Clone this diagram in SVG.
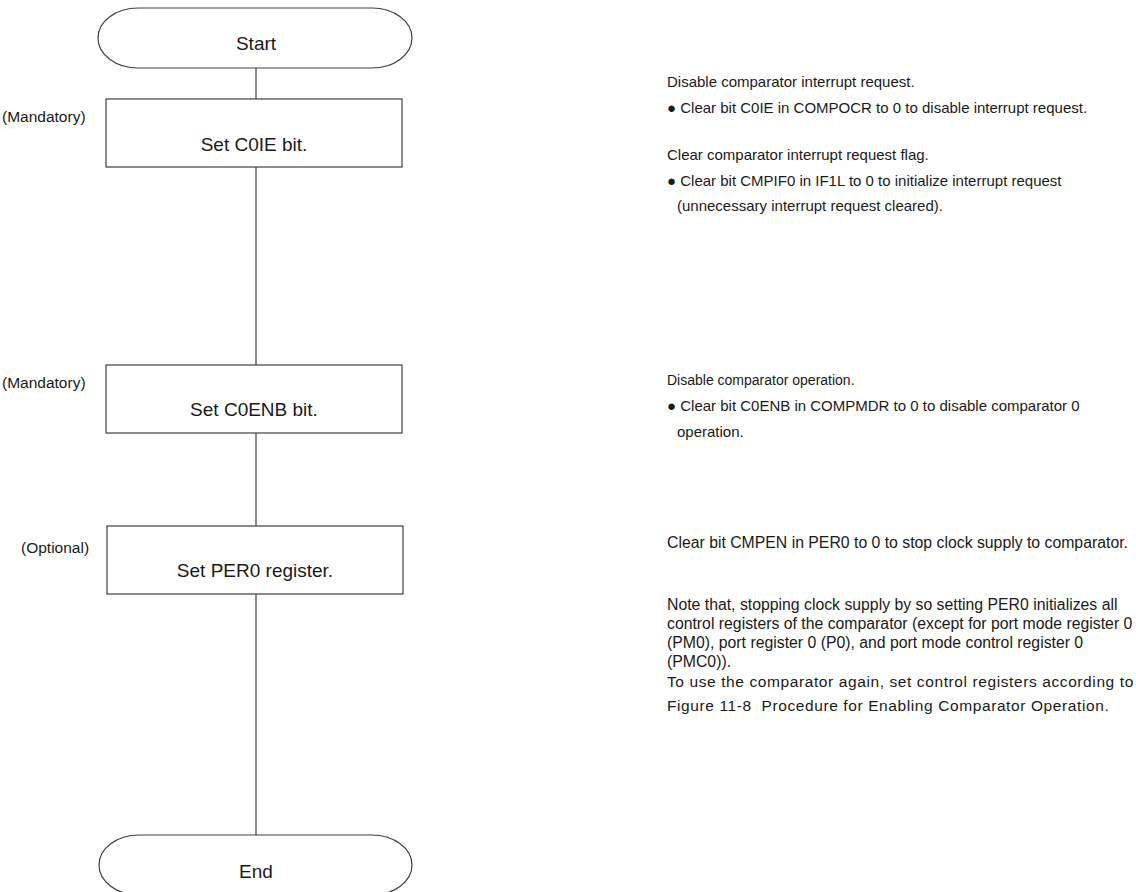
<svg xmlns="http://www.w3.org/2000/svg" width="1136" height="892" viewBox="0 0 1136 892">
<style>
.shape{fill:#ffffff;stroke:#404040;stroke-width:1.2}
.conn{stroke:#404040;stroke-width:1.2;fill:none}
.bt{font-family:"Liberation Sans",Arial,sans-serif;font-size:19px;fill:#1a1a1a;text-anchor:middle}
.lb{font-family:"Liberation Sans",Arial,sans-serif;font-size:15.5px;fill:#1a1a1a}
.r1{font-family:"Liberation Sans",Arial,sans-serif;font-size:15px;fill:#1a1a1a}
.r2{font-family:"Liberation Sans",Arial,sans-serif;font-size:15.8px;fill:#1a1a1a}
.rs{font-family:"Liberation Sans",Arial,sans-serif;font-size:14px;fill:#1a1a1a}
.r3{font-family:"Liberation Sans",Arial,sans-serif;font-size:15.5px;letter-spacing:0.6px;fill:#1a1a1a}
</style>
<rect width="1136" height="892" fill="#ffffff"/>
<g id="connectors">
<line class="conn" x1="256" y1="68" x2="256" y2="835"/>
</g>
<g id="start">
<path class="shape" d="M138 8 H372 A40 30 0 0 1 372 68 H138 A40 30 0 0 1 138 8 Z"/>
<text class="bt" x="256" y="50">Start</text>
</g>
<g id="step1">
<rect class="shape" x="106" y="99" width="296" height="68"/>
<text class="bt" x="254" y="151">Set C0IE bit.</text>
<text class="lb" x="2" y="122">(Mandatory)</text>
</g>
<g id="step2">
<rect class="shape" x="106" y="365" width="296" height="68"/>
<text class="bt" x="254" y="416">Set C0ENB bit.</text>
<text class="lb" x="2" y="388">(Mandatory)</text>
</g>
<g id="step3">
<rect class="shape" x="107" y="526" width="296" height="68"/>
<text class="bt" x="255" y="577">Set PER0 register.</text>
<text class="lb" x="21" y="553">(Optional)</text>
</g>
<g id="end">
<path class="shape" d="M139 835 H372 A40 30 0 0 1 372 895 H139 A40 30 0 0 1 139 835 Z"/>
<text class="bt" x="256" y="878">End</text>
</g>
<g id="notes">
<text class="r1" x="667" y="87">Disable comparator interrupt request.</text>
<text class="r1" x="667" y="113">● Clear bit C0IE in COMPOCR to 0 to disable interrupt request.</text>
<text class="r1" x="667" y="160">Clear comparator interrupt request flag.</text>
<text class="r1" x="667" y="186">● Clear bit CMPIF0 in IF1L to 0 to initialize interrupt request</text>
<text class="r1" x="677" y="211">(unnecessary interrupt request cleared).</text>
<text class="rs" x="667" y="385">Disable comparator operation.</text>
<text class="r1" x="667" y="411">● Clear bit C0ENB in COMPMDR to 0 to disable comparator 0</text>
<text class="r1" x="677" y="437">operation.</text>
<text class="r2" x="667" y="548">Clear bit CMPEN in PER0 to 0 to stop clock supply to comparator.</text>
<text class="r2" x="667" y="610">Note that, stopping clock supply by so setting PER0 initializes all</text>
<text class="r2" x="667" y="629">control registers of the comparator (except for port mode register 0</text>
<text class="r2" x="667" y="648">(PM0), port register 0 (P0), and port mode control register 0</text>
<text class="r2" x="667" y="667">(PMC0)).</text>
<text class="r3" x="667" y="687">To use the comparator again, set control registers according to</text>
<text class="r3" x="667" y="711">Figure 11-8&#160; Procedure for Enabling Comparator Operation.</text>
</g>
</svg>
